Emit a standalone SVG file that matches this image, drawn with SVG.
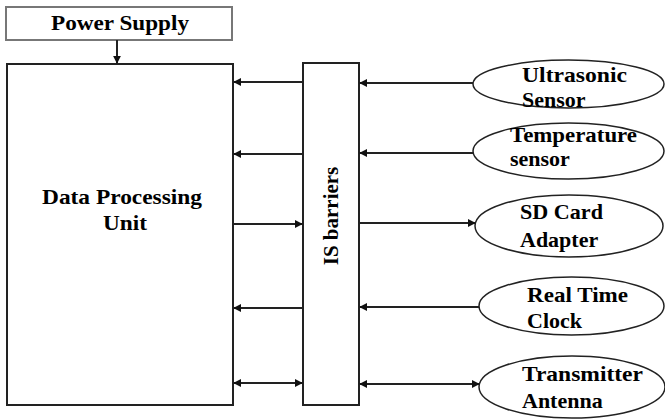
<svg xmlns="http://www.w3.org/2000/svg" width="665" height="420" viewBox="0 0 665 420">
<defs>
<marker id="ah" viewBox="0 0 10 10" refX="9" refY="5" markerWidth="8" markerHeight="8" markerUnits="userSpaceOnUse" orient="auto-start-reverse">
<path d="M0,0 L10,5 L0,10 z" fill="#111"/>
</marker>
<style>
.box{fill:#fff;stroke:#222;stroke-width:2}
.ell{fill:#fff;stroke:#222;stroke-width:1.5}
text{font-family:'Liberation Serif','Times New Roman',serif;font-weight:700;fill:#000}
.c{stroke:#222;stroke-width:2;fill:none}
</style>
</defs>
<rect width="665" height="420" fill="#fff"/>
<g id="power">
<rect class="box" x="6" y="7" width="226" height="33" style="stroke:#777"/>
<text x="120" y="30" font-size="21" text-anchor="middle" textLength="138" lengthAdjust="spacingAndGlyphs">Power Supply</text>
</g>
<g id="dpu">
<rect class="box" x="7" y="64" width="226" height="341"/>
<text x="122" y="204" font-size="22" text-anchor="middle" textLength="160" lengthAdjust="spacingAndGlyphs">Data Processing</text>
<text x="125" y="230" font-size="22" text-anchor="middle" textLength="44" lengthAdjust="spacingAndGlyphs">Unit</text>
</g>
<g id="isb">
<rect class="box" x="303" y="63" width="56" height="342"/>
<text font-size="21" text-anchor="middle" transform="translate(338,216) rotate(-90)">IS barriers</text>
</g>
<g id="ultra">
<ellipse class="ell" cx="568.5" cy="84" rx="95.5" ry="24"/>
<text x="522" y="82" font-size="22" textLength="105" lengthAdjust="spacingAndGlyphs">Ultrasonic</text>
<text x="522" y="107" font-size="22">Sensor</text>
</g>
<g id="temp">
<ellipse class="ell" cx="568.5" cy="151" rx="95.5" ry="28"/>
<text x="510" y="142" font-size="22" textLength="127" lengthAdjust="spacingAndGlyphs">Temperature</text>
<text x="510" y="166" font-size="22">sensor</text>
</g>
<g id="sd">
<ellipse class="ell" cx="569" cy="226" rx="94" ry="31"/>
<text x="520" y="219" font-size="22" textLength="83" lengthAdjust="spacingAndGlyphs">SD Card</text>
<text x="520" y="247" font-size="22">Adapter</text>
</g>
<g id="rtc">
<ellipse class="ell" cx="571.5" cy="306" rx="92.5" ry="29"/>
<text x="527" y="302" font-size="22" textLength="101" lengthAdjust="spacingAndGlyphs">Real Time</text>
<text x="527" y="328" font-size="22">Clock</text>
</g>
<g id="tx">
<ellipse class="ell" cx="572" cy="387" rx="93" ry="31"/>
<text x="522" y="381" font-size="22" textLength="121" lengthAdjust="spacingAndGlyphs">Transmitter</text>
<text x="522" y="408" font-size="22">Antenna</text>
</g>
<g id="connectors">
<line class="c" x1="117" y1="40" x2="117" y2="63" marker-end="url(#ah)"/>
<line class="c" x1="303" y1="82" x2="234" y2="82" marker-end="url(#ah)"/>
<line class="c" x1="303" y1="154" x2="234" y2="154" marker-end="url(#ah)"/>
<line class="c" x1="234" y1="224" x2="302" y2="224" marker-end="url(#ah)"/>
<line class="c" x1="303" y1="308" x2="234" y2="308" marker-end="url(#ah)"/>
<line class="c" x1="234" y1="383" x2="302" y2="383" marker-start="url(#ah)" marker-end="url(#ah)"/>
<line class="c" x1="473" y1="83" x2="360" y2="83" marker-end="url(#ah)"/>
<line class="c" x1="473" y1="153" x2="360" y2="153" marker-end="url(#ah)"/>
<line class="c" x1="360" y1="223" x2="475" y2="223" marker-end="url(#ah)"/>
<line class="c" x1="479" y1="307" x2="360" y2="307" marker-end="url(#ah)"/>
<line class="c" x1="360" y1="384" x2="479" y2="384" marker-start="url(#ah)" marker-end="url(#ah)"/>
</g>
</svg>
